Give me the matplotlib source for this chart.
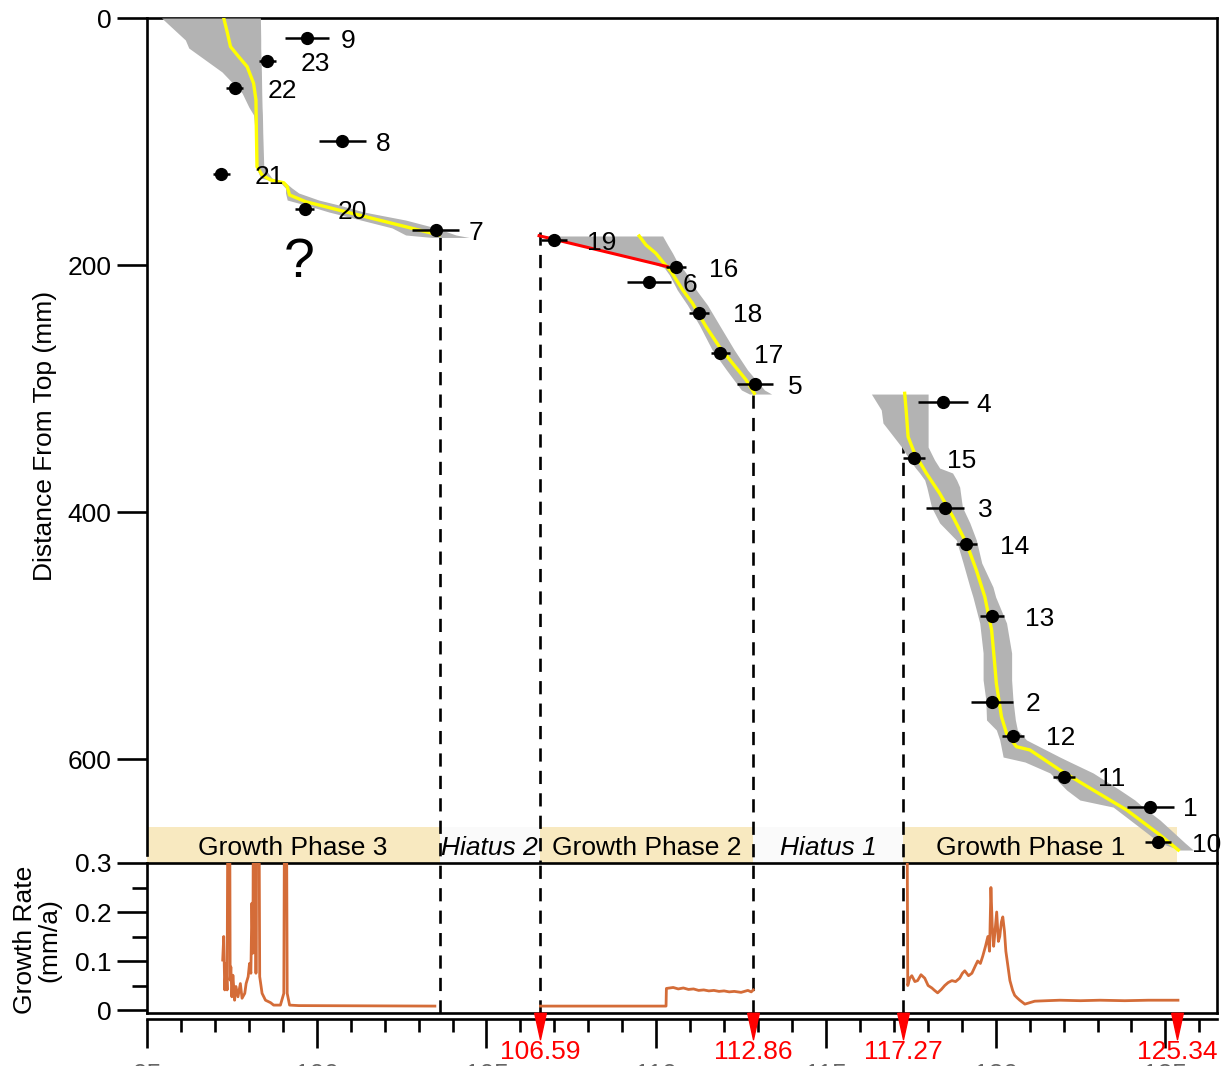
import matplotlib
matplotlib.use('Agg')
import matplotlib.pyplot as plt
from matplotlib.ticker import MultipleLocator, FixedLocator
from matplotlib.transforms import blended_transform_factory

plt.rcParams['font.family'] = ['Liberation Sans', 'DejaVu Sans']

# ---------------- data ----------------
sample_labels = ['9', '23', '22', '8', '21', '20', '7', '19', '16', '6', '18', '17', '5',
                 '4', '15', '3', '14', '13', '2', '12', '11', '1', '10']
sample_age = [99.72, 98.54, 97.58, 100.75, 97.19, 99.64, 103.50, 106.99, 110.58, 109.80,
              111.27, 111.89, 112.91, 118.45, 117.59, 118.50, 119.14, 119.89, 119.89,
              120.50, 122.02, 124.55, 124.79]
sample_depth = [16.0, 34.8, 56.9, 99.6, 126.3, 154.9, 171.7, 179.8, 201.4, 214.0, 238.6,
                271.5, 296.6, 311.2, 356.5, 396.5, 425.9, 484.0, 553.6, 581.1, 614.3,
                638.6, 667.4]
sample_err = [0.65, 0.25, 0.24, 0.69, 0.26, 0.27, 0.70, 0.37, 0.29, 0.65, 0.29, 0.27, 0.54,
              0.74, 0.33, 0.56, 0.31, 0.35, 0.61, 0.32, 0.32, 0.69, 0.38]

# age-depth model, growth phase 3
gp3_model_age = [97.26, 97.36, 97.46, 97.70, 97.95, 98.14, 98.21, 98.22, 98.24, 98.39, 98.64,
                 99.03, 99.13, 99.20, 99.67, 100.65, 101.63, 102.62, 103.60]
gp3_model_depth = [0.0, 11.1, 23.2, 31.3, 39.4, 52.9, 66.4, 88.0, 120.4, 127.1, 131.2, 133.4,
                   136.6, 143.3, 148.7, 155.5, 162.2, 169.0, 175.7]
gp3_env_depth = [0.0, 17.8, 24.3, 34.0, 43.7, 60.7, 72.1, 78.5, 93.1, 120.6, 129.6, 133.6,
                 137.7, 141.7, 147.4, 151.4, 157.1, 163.6, 170.0, 175.7, 177.7]
gp3_env_lo = [95.43, 96.13, 96.23, 96.72, 97.21, 97.80, 98.00, 98.14, 98.19, 98.21, 98.35,
              98.94, 99.08, 99.08, 99.13, 99.67, 100.36, 101.30, 102.22, 102.62, 103.40]
gp3_env_hi = [98.34, 98.35, 98.35, 98.36, 98.37, 98.38, 98.39, 98.40, 98.41, 98.44, 98.68,
              99.09, 99.27, 99.47, 100.06, 100.65, 101.39, 102.62, 103.51, 104.10, 104.49]

# growth phase 2
gp2_model_age = [109.50, 109.70, 109.99, 110.19, 110.44, 110.78, 111.07, 111.47, 111.86,
                 112.25, 112.65, 112.89]
gp2_model_depth = [176.5, 183.8, 190.5, 197.3, 205.4, 220.2, 231.0, 250.0, 266.2, 279.6,
                   293.1, 303.9]
gp2_env_depth = [176.5, 183.8, 190.3, 197.6, 202.4, 208.1, 220.2, 232.4, 248.6, 268.8,
                 285.0, 301.2, 304.5]
gp2_env_lo = [106.55, 107.73, 108.76, 109.79, 110.24, 110.39, 110.62, 110.92, 111.27,
              111.65, 112.07, 112.51, 112.75]
gp2_env_hi = [110.19, 110.34, 110.48, 110.62, 110.77, 110.92, 111.18, 111.51, 111.86,
              112.30, 112.69, 113.19, 113.40]
gp2_red_age = [106.55, 110.34]
gp2_red_depth = [176.3, 201.4]

# growth phase 1
gp1_model_age = [117.32, 117.37, 117.42, 117.61, 117.96, 118.35, 118.74, 119.14, 119.43,
                 119.68, 119.88, 119.97, 120.02, 120.17, 120.32, 120.61, 121.01, 121.89,
                 122.87, 123.86, 124.84, 125.38]
gp1_model_depth = [303.9, 320.1, 339.0, 352.5, 368.7, 384.9, 403.8, 425.3, 447.0, 468.6,
                   495.5, 522.5, 538.7, 565.7, 579.2, 590.0, 592.7, 608.9, 625.1, 641.3,
                   661.5, 673.7]
gp1_env_depth = [304.5, 317.4, 327.9, 341.7, 347.4, 357.9, 364.4, 368.4, 374.1, 379.8,
                 396.0, 408.9, 422.7, 441.3, 460.7, 468.8, 489.9, 514.2, 536.0, 552.2,
                 568.4, 576.5, 584.6, 598.4, 602.4, 611.3, 625.1, 633.2, 638.9, 649.4,
                 668.0, 673.7]
gp1_env_lo = [116.34, 116.63, 116.68, 117.07, 117.23, 117.47, 117.64, 117.76, 117.91, 117.97,
              118.11, 118.35, 118.84, 119.04, 119.24, 119.33, 119.53, 119.63, 119.63, 119.71,
              119.73, 120.02, 120.12, 120.22, 120.86, 121.60, 122.09, 122.48, 123.46, 123.96,
              124.84, 125.43]
gp1_env_hi = [118.01, 118.01, 118.01, 118.01, 118.01, 118.20, 118.35, 118.73, 118.85, 118.94,
              119.02, 119.24, 119.43, 119.59, 119.92, 120.00, 120.32, 120.47, 120.47, 120.51,
              120.58, 120.64, 120.91, 121.89, 122.19, 122.87, 123.66, 124.10, 124.34, 124.84,
              125.58, 125.82]

# growth rates (mm/a)
gr3_age = [97.23, 97.26, 97.29, 97.33, 97.36, 97.39, 97.43, 97.45, 97.47, 97.50, 97.53,
           97.58, 97.62, 97.68, 97.75, 97.80, 97.88, 97.92, 97.98, 98.02, 98.06, 98.09,
           98.12, 98.14, 98.19, 98.21, 98.24, 98.29, 98.32, 98.39, 98.49, 98.64, 98.73,
           98.93, 99.03, 99.06, 99.10, 99.13, 99.20, 99.47, 103.48]
gr3_rate = [0.102, 0.150, 0.041, 0.095, 0.041, 0.60, 0.60, 0.061, 0.088, 0.027, 0.071,
            0.020, 0.048, 0.027, 0.054, 0.024, 0.034, 0.054, 0.068, 0.095, 0.075, 0.218,
            0.116, 0.60, 0.60, 0.075, 0.60, 0.60, 0.068, 0.034, 0.020, 0.015, 0.010,
            0.010, 0.034, 0.60, 0.60, 0.034, 0.010, 0.009, 0.008]
gr2_age = [106.59, 110.29, 110.30, 110.50, 110.65, 110.80, 110.95, 111.10, 111.25, 111.40,
           111.55, 111.70, 111.85, 112.00, 112.15, 112.30, 112.50, 112.70, 112.80, 112.86]
gr2_rate = [0.008, 0.008, 0.044, 0.046, 0.043, 0.045, 0.042, 0.043, 0.040, 0.041, 0.039,
            0.040, 0.038, 0.039, 0.037, 0.038, 0.036, 0.040, 0.037, 0.041]
gr1_age = [117.32, 117.38, 117.41, 117.47, 117.53, 117.62, 117.70, 117.80, 117.91, 118.01,
           118.12, 118.20, 118.29, 118.40, 118.50, 118.60, 118.71, 118.82, 118.94, 119.02,
           119.09, 119.20, 119.30, 119.40, 119.47, 119.55, 119.62, 119.70, 119.77, 119.82,
           119.86, 119.90, 119.94, 119.98, 120.03, 120.08, 120.12, 120.17, 120.21, 120.26,
           120.30, 120.36, 120.42, 120.50, 120.56, 120.63, 120.71, 120.86, 121.15, 121.50,
           121.89, 122.50, 123.07, 123.80, 124.50, 125.37]
gr1_rate = [0.60, 0.60, 0.05, 0.065, 0.07, 0.058, 0.06, 0.072, 0.065, 0.05, 0.045, 0.040,
            0.035, 0.042, 0.05, 0.056, 0.06, 0.058, 0.065, 0.075, 0.08, 0.07, 0.075, 0.09,
            0.10, 0.095, 0.11, 0.13, 0.15, 0.12, 0.25, 0.17, 0.13, 0.16, 0.20, 0.14, 0.15,
            0.18, 0.19, 0.16, 0.12, 0.09, 0.06, 0.04, 0.03, 0.025, 0.02, 0.012, 0.018,
            0.019, 0.02, 0.019, 0.02, 0.019, 0.02, 0.02]

# phases
phase_edges = [95.0, 103.62, 106.59, 112.86, 117.27, 125.34]
phase_names = ['Growth Phase 3', 'Hiatus 2', 'Growth Phase 2', 'Hiatus 1', 'Growth Phase 1']
phase_is_hiatus = [False, True, False, True, False]
phase_label_x = [99.3, 105.1, 109.72, 115.06, 121.04]
boundary_ages = [103.62, 106.59, 112.86, 117.27]
boundary_top_depth = [177.7, 173.0, 305.0, 305.0]
marked_ages = [106.59, 112.86, 117.27, 125.34]
marked_labels = ['106.59', '112.86', '117.27', '125.34']

# ---------------- figure ----------------
W, H = 1228, 1066
fig = plt.figure(figsize=(W / 100, H / 100), dpi=100)
xl, xr = 95.0, 126.52
left = 147 / W
width = (1217 - 147) / W
ax1 = fig.add_axes([left, 1 - 863 / H, width, (863 - 18) / H])
ax2 = fig.add_axes([left, 1 - 1013 / H, width, (1013 - 863) / H])
ax3 = fig.add_axes([left, 1 - 1019 / H, width, 1 / H])

FS = 19
SW = 1.9
band_col = '#F8E9C0'
hiatus_col = '#FAFAFA'
grey = '#B3B3B3'
yellow = '#FFFF00'
orange = '#D46C38'
dash = (0, (5, 3.5))

# upper panel
ax1.set_xlim(xl, xr)
ax1.set_ylim(684.2, 0)
for env_d, lo, hi in [(gp3_env_depth, gp3_env_lo, gp3_env_hi),
                      (gp2_env_depth, gp2_env_lo, gp2_env_hi),
                      (gp1_env_depth, gp1_env_lo, gp1_env_hi)]:
    ax1.fill_betweenx(env_d, lo, hi, color=grey, lw=0, zorder=3)
for a, d in [(gp3_model_age, gp3_model_depth), (gp2_model_age, gp2_model_depth),
             (gp1_model_age, gp1_model_depth)]:
    ax1.plot(a, d, color=yellow, lw=2.4, zorder=4)
ax1.plot(gp2_red_age, gp2_red_depth, color='#FF0000', lw=2.2, zorder=5)
ax1.errorbar(sample_age, sample_depth, xerr=sample_err, fmt='o', color='black', ms=8.5,
             elinewidth=1.8, capsize=0, zorder=6)
for lab, a, d in zip(sample_labels, sample_age, sample_depth):
    ax1.annotate(lab, (a, d), xytext=(24, -2), textcoords='offset points', ha='left',
                 va='center', fontsize=FS, zorder=7, annotation_clip=False)
ax1.text(99.48, 198.4, '?', fontsize=40, ha='center', va='center')

# phase band
for i, name in enumerate(phase_names):
    ax1.fill_between([phase_edges[i], phase_edges[i + 1]], 655, 684.2,
                     color=hiatus_col if phase_is_hiatus[i] else band_col, lw=0, zorder=1)
    ax1.text(phase_label_x[i], 672, name, fontsize=FS, ha='center', va='center',
             style='italic' if phase_is_hiatus[i] else 'normal', zorder=2)

for xb, d0 in zip(boundary_ages, boundary_top_depth):
    ax1.plot([xb, xb], [d0, 684.2], color='black', lw=1.9, linestyle=dash, zorder=2.6)
    ax2.axvline(xb, color='black', lw=1.9, linestyle=dash, zorder=2.6)

ax1.set_yticks([0, 200, 400, 600])
ax1.set_yticklabels(['0', '200', '400', '600'])
ax1.tick_params(axis='y', which='major', length=21.6, width=SW, labelsize=FS, pad=4)
ax1.tick_params(axis='x', which='both', bottom=False, labelbottom=False)
ax1.spines['bottom'].set_visible(False)
ax1.spines['left'].set_bounds(0, 678)
for s in ax1.spines.values():
    s.set_linewidth(SW)

# lower panel
ax2.set_xlim(xl, xr)
ax2.set_ylim(-0.0061, 0.3)
for a, r in [(gr3_age, gr3_rate), (gr2_age, gr2_rate), (gr1_age, gr1_rate)]:
    ax2.plot(a, r, color=orange, lw=2.0, zorder=3)
ax2.yaxis.set_major_locator(FixedLocator([0, 0.1, 0.2, 0.3]))
ax2.set_yticklabels(['0', '0.1', '0.2', '0.3'])
ax2.yaxis.set_minor_locator(FixedLocator([0.05, 0.15, 0.25]))
ax2.tick_params(axis='y', which='major', length=21.6, width=SW, labelsize=FS, pad=4)
ax2.tick_params(axis='y', which='minor', length=10.8, width=SW)
ax2.tick_params(axis='x', which='both', bottom=False, labelbottom=False)
for s in ax2.spines.values():
    s.set_linewidth(SW)

# detached age axis
ax3.set_xlim(xl, xr)
ax3.set_ylim(0, 1)
ax3.patch.set_visible(False)
for k in ['top', 'left', 'right']:
    ax3.spines[k].set_visible(False)
ax3.spines['bottom'].set_linewidth(SW)
ax3.set_yticks([])
ax3.xaxis.set_major_locator(MultipleLocator(5))
ax3.xaxis.set_minor_locator(MultipleLocator(1))
ax3.tick_params(axis='x', which='major', length=21, width=SW, labelsize=FS, pad=10.5,
                labelcolor='#666666')
ax3.tick_params(axis='x', which='minor', length=9.5, width=SW)

trans = blended_transform_factory(ax3.transData, fig.transFigure)
tri = [(-0.22, 0.5), (0.22, 0.5), (0.0, -0.5), (-0.22, 0.5)]
ax3.plot(marked_ages, [1 - 1026 / H] * len(marked_ages), linestyle='none', marker=tri,
         ms=19, color='#FF0000', transform=trans, clip_on=False, zorder=10)
for a, lab in zip(marked_ages, marked_labels):
    ax3.text(a, 1 - 1052 / H, lab, color='#FF0000', fontsize=FS, ha='center', va='center',
             transform=trans, zorder=11)

fig.text(45 / W, 1 - 436 / H, 'Distance From Top (mm)', rotation=90, ha='center',
         va='center', fontsize=FS)
fig.text(37 / W, 1 - 940 / H, 'Growth Rate\n(mm/a)', rotation=90, ha='center',
         va='center', fontsize=FS, linespacing=1.05)

fig.savefig('out.png', dpi=100)
